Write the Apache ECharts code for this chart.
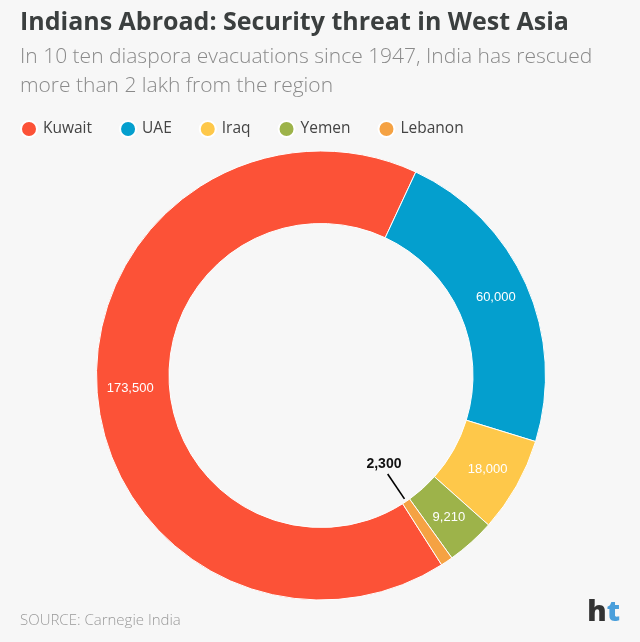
<!DOCTYPE html>
<html>
<head>
<meta charset="utf-8">
<script src="https://cdn.jsdelivr.net/npm/echarts@6/dist/echarts.min.js"></script>
<style>
  html, body { margin: 0; padding: 0; background: #f7f7f7; }
  #chart { width: 640px; height: 642px; }
</style>
</head>
<body>
<div id="chart"></div>
<script>
const countries = ['Kuwait', 'UAE', 'Iraq', 'Yemen', 'Lebanon'];
const evacuated = [173500, 60000, 18000, 9210, 2300];
const colors = ['#fc5237', '#049fce', '#fec84a', '#9db34a', '#f5a243'];

const center = [321, 375.5];
const radius = [152, 224.5];
const startAngle = 302.5;

const total = evacuated.reduce((a, b) => a + b, 0);

// mid angle (screen radians) of a slice, drawn clockwise from startAngle
function midAngle(idx) {
  let before = 0;
  for (let i = 0; i < idx; i++) before += evacuated[i];
  const deg = startAngle - (before + evacuated[idx] / 2) / total * 360;
  return deg * Math.PI / 180;
}

const chart = echarts.init(document.getElementById('chart'));

chart.setOption({
  backgroundColor: '#f7f7f7',
  animation: false,
  color: colors,
  title: {
    left: 20,
    top: 10,
    padding: 0,
    itemGap: 7,
    text: 'Indians Abroad: Security threat in West Asia',
    textStyle: { fontFamily: 'Open Sans', fontSize: 25, fontWeight: 'bold', color: '#3b3f3f' },
    subtext: 'In 10 ten diaspora evacuations since 1947, India has rescued\nmore than 2 lakh from the region',
    subtextStyle: { fontFamily: 'Open Sans', fontSize: 21, fontWeight: 300, color: '#8a8a8a', lineHeight: 29.5 }
  },
  legend: {
    left: 20,
    top: 120,
    padding: 0,
    icon: 'circle',
    itemWidth: 16,
    itemHeight: 16,
    itemGap: 27,
    data: countries,
    textStyle: { fontFamily: 'Open Sans', fontSize: 15.5, color: '#444', padding: [0, 0, 0, 1] }
  },
  graphic: [
    {
      type: 'text', left: 20, top: 613,
      style: { text: 'SOURCE: Carnegie India', fontFamily: 'Open Sans', fontSize: 15, fontWeight: 300, fill: '#9a9a9a' }
    },
    {
      type: 'text', right: 20, top: 598,
      style: {
        text: '{h|h}{t|t}',
        fontFamily: 'Open Sans', fontSize: 29, fontWeight: 800,
        rich: {
          h: { fontFamily: 'Open Sans', fontSize: 29, fontWeight: 800, fill: '#333' },
          t: { fontFamily: 'Open Sans', fontSize: 29, fontWeight: 800, fill: '#4a9fdb' }
        }
      }
    }
  ],
  series: [{
    type: 'pie',
    center: center,
    radius: radius,
    startAngle: startAngle,
    clockwise: true,
    avoidLabelOverlap: false,
    itemStyle: { borderColor: '#fff', borderWidth: 1 },
    label: {
      position: 'inside',
      color: '#fff',
      fontFamily: 'Liberation Sans',
      fontSize: 13,
      formatter: p => p.value.toLocaleString('en-US')
    },
    labelLine: { show: false },
    emphasis: { disabled: true },
    data: countries.map((name, i) => {
      const item = { name: name, value: evacuated[i] };
      if (name === 'Lebanon') {
        item.label = { position: 'outside', color: '#111', fontSize: 14, fontWeight: 'bold' };
        item.labelLine = { show: true, length: 10, length2: 0, lineStyle: { color: '#000', width: 1.6 } };
      }
      return item;
    }),
    labelLayout: function (params) {
      if (countries[params.dataIndex] !== 'Lebanon') return;
      const a = midAngle(params.dataIndex);
      const ux = Math.cos(a), uy = -Math.sin(a);
      const r0 = radius[0];
      const p1 = [center[0] + ux * (r0 - 3), center[1] + uy * (r0 - 3)];
      const p2 = [center[0] + ux * (r0 - 33), center[1] + uy * (r0 - 33)];
      return {
        x: center[0] + ux * (r0 - 45) + 3,
        y: center[1] + uy * (r0 - 45) + 0,
        align: 'center',
        verticalAlign: 'middle',
        labelLinePoints: [p1, p2]
      };
    }
  }]
});
</script>
</body>
</html>
